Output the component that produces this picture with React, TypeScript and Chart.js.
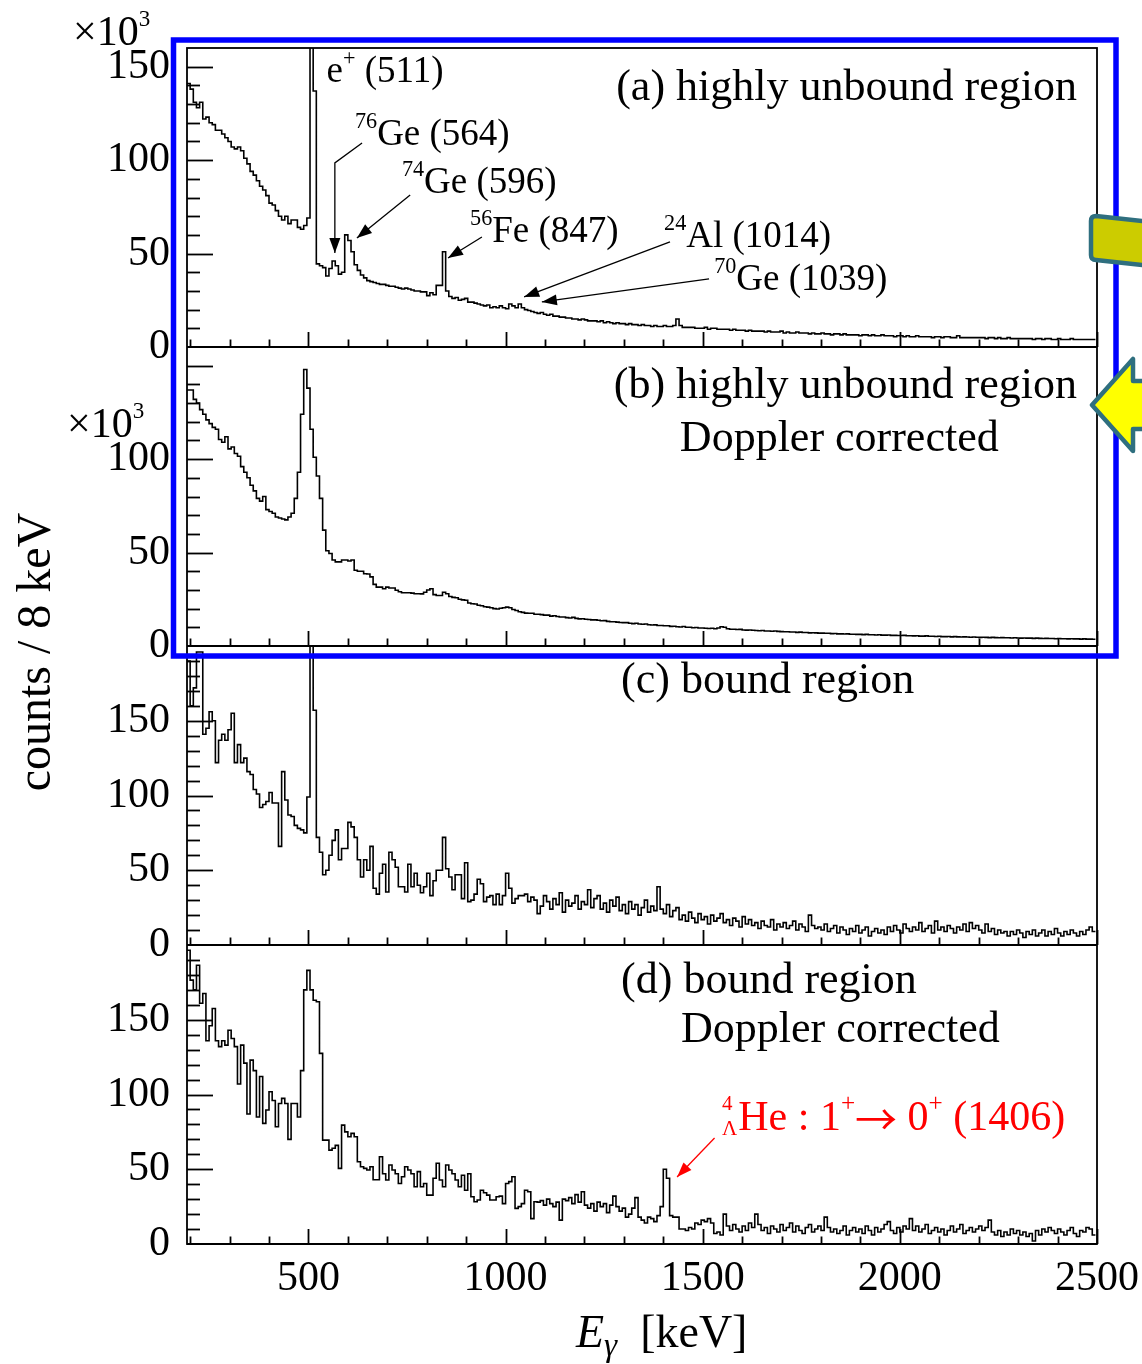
import React, { useEffect, useRef } from 'react';
import { Chart, registerables } from 'chart.js';

Chart.register(...registerables);

// ---------------- data ----------------
const BIN_START = 192; // keV, left edge of first bin
const BIN_WIDTH = 8; // keV
const X_MIN = 192;
const X_MAX = 2500;
const X_TICK_LABELS = [500, 1000, 1500, 2000, 2500];

// (a) highly unbound region  (x10^3 counts / 8 keV)
const panelA: number[] = [
  141, 138, 131, 128, 131, 122, 123, 120, 119, 116,
  116, 114, 112, 110, 107, 106, 107, 105, 101, 98,
  94, 92, 89, 86, 84, 81, 77, 76, 73, 70,
  68, 70, 66, 68, 68, 64, 63, 65, 69, 400,
  137, 44.5, 43.5, 42.5, 38, 42, 46, 43.5, 39, 40,
  60, 57, 51, 44, 41, 38.5, 37, 35.5, 35, 34.5,
  34, 33.5, 33.5, 33, 32.5, 32.5, 32, 31.5, 31, 31.5,
  31, 30.5, 30, 30, 29.5, 29.5, 27.5, 29, 28, 33,
  33, 51, 30, 27, 26, 26.5, 25, 25.5, 26, 24,
  24, 23.5, 23, 22.5, 22, 22.5, 21, 21.5, 21, 22,
  21, 20.5, 23, 22, 21, 23, 21, 20, 19.5, 19,
  18.5, 18, 18.5, 17.5, 17, 17.5, 16.5, 16.5, 16, 16,
  15.5, 15.5, 15, 15, 14.5, 15, 14.5, 14, 14, 14,
  13.5, 14, 13, 13.5, 13, 12.5, 13, 12.5, 12.5, 12,
  12.5, 12, 12, 11.5, 12, 11.5, 11.5, 11, 11.5, 11,
  11, 11.5, 11, 11, 11.5, 15, 11.5, 10.5, 10.5, 10.5,
  10.5, 10, 10, 10, 10.5, 9.5, 10, 10, 9.5, 9.5,
  9.5, 9.5, 9, 9.5, 9, 9, 9, 8.5, 9, 8.5,
  8.5, 8.5, 8.5, 8, 8.5, 8, 8, 8, 8.5, 7.5,
  8, 7.5, 7.5, 8, 7.5, 7.5, 7.5, 7, 7.5, 7,
  7, 7.5, 7, 7, 6.5, 7, 7, 6.5, 7, 6.5,
  6.5, 6.5, 6.5, 6, 6.5, 6.5, 6, 6.5, 6, 6,
  6.5, 6, 6, 6, 5.5, 6, 6, 5.5, 6, 5.5,
  5.5, 6, 5.5, 5.5, 5.5, 5.5, 5, 5.5, 5.5, 5,
  5.5, 5.5, 5, 5, 6, 5, 5, 5, 5, 5,
  5, 5, 5, 4.5, 5, 5, 4.5, 5, 4.5, 4.5,
  5, 4.5, 4.5, 4.5, 4.5, 4.5, 4.5, 4.5, 4, 4.5,
  4.5, 4, 4.5, 4.5, 4, 4, 4.5, 4, 4, 4,
  4.5, 4, 4, 4, 4, 4, 4, 4,
];

// (b) highly unbound region, Doppler corrected (x10^3)
const panelB: number[] = [
  137, 137, 132, 130, 126.5, 124, 121, 119, 117, 116,
  110.5, 109, 112, 105.5, 106.5, 103, 101.5, 96, 93, 90,
  86, 83, 79, 77.5, 80, 73, 72, 71, 69, 68.5,
  68, 67.5, 69, 71, 79, 93, 124, 148, 138, 116,
  101, 91, 79, 62, 51, 49.5, 46, 45, 45, 46,
  46, 45.5, 46, 40.5, 40, 40, 38.7, 38.5, 37, 33,
  31.5, 31.5, 30.6, 31.5, 31, 31, 29.8, 29, 28.5, 28.5,
  28.5, 28.3, 28, 28, 27.9, 28.8, 30, 30.6, 27.5, 27,
  27, 28.8, 28, 26.5, 26, 25.8, 25, 24.7, 24.5, 23,
  22.6, 22.5, 21.8, 21.5, 21, 20.8, 20.5, 20, 19.8, 20.2,
  20.5, 20.8, 20.5, 19.5, 19, 18.3, 18, 17.6, 17.5, 17.5,
  17, 17, 16.8, 16.5, 16.5, 16, 16.2, 15.8, 15.5, 15.5,
  15.2, 15, 15.3, 14.8, 14.5, 14.6, 14.3, 14.2, 14, 14,
  13.8, 13.5, 13.6, 13.2, 13, 13, 12.8, 12.6, 12.5, 12.5,
  12.2, 12, 12.2, 11.8, 11.6, 11.8, 11.4, 11.2, 11.3, 11,
  11, 10.8, 10.8, 10.5, 10.6, 10.3, 10.2, 10.4, 10, 10,
  9.8, 9.9, 9.6, 9.6, 9.5, 9.4, 9.5, 9.2, 9.6, 10.3,
  10, 9.2, 9, 9, 8.8, 8.9, 8.6, 8.5, 8.6, 8.4,
  8.3, 8.2, 8.3, 8, 8, 7.9, 8, 7.8, 7.7, 7.6,
  7.6, 7.5, 7.5, 7.3, 7.4, 7.2, 7.2, 7, 7.1, 7,
  6.9, 6.9, 6.8, 6.8, 6.6, 6.7, 6.5, 6.5, 6.4, 6.5,
  6.3, 6.3, 6.2, 6.2, 6.1, 6.2, 6, 6, 5.9, 6,
  5.8, 5.8, 5.9, 5.7, 5.7, 5.6, 5.6, 5.7, 5.5, 5.5,
  5.4, 5.5, 5.3, 5.3, 5.4, 5.2, 5.2, 5.1, 5.2, 5,
  5, 5.1, 4.9, 5, 4.9, 4.8, 4.9, 4.8, 4.7, 4.8,
  4.7, 4.6, 4.7, 4.6, 4.5, 4.6, 4.5, 4.4, 4.5, 4.4,
  4.4, 4.3, 4.4, 4.3, 4.2, 4.3, 4.2, 4.2, 4.1, 4.2,
  4.1, 4, 4.1, 4, 4, 3.9, 4, 3.9, 3.9, 3.8,
  3.9, 3.8, 3.8, 3.7, 3.8, 3.7, 3.7, 3.6,
];

// (c) bound region (counts / 8 keV)
const panelC: number[] = [
  190, 160, 172, 196, 196, 141, 145, 156, 150, 122,
  137, 141, 137, 144, 155, 122, 134, 122, 125, 116,
  114, 104, 101, 92, 94, 96, 102, 95, 95, 66,
  116, 97, 87, 86, 80, 78, 77, 75, 99, 600,
  157, 72, 62, 47, 50, 60, 70, 77, 57, 64.5,
  64.5, 82, 79, 72, 57, 45.5, 57, 50, 66, 38,
  34, 48, 54, 35.5, 62, 57, 52, 39, 39, 35.5,
  54, 39, 48, 40, 35, 39, 48, 33, 43, 50,
  50, 72, 51, 45.5, 37, 47, 47, 31, 55, 29,
  30, 34, 44, 41, 29, 32, 33, 27, 34, 27,
  33, 48, 38, 28, 31, 33, 33, 34, 29, 32,
  30, 21, 26, 33, 29, 24, 31, 27, 35, 22,
  30, 26, 28, 33, 24, 29, 27, 37, 25, 31,
  33, 24, 28, 22, 30, 26, 32, 23, 27, 21,
  29, 24, 27, 20, 25, 30, 22, 26, 23, 39,
  24, 21, 27, 19, 23, 25, 17, 20, 16, 22,
  18, 15, 21, 17, 19, 14, 20, 16, 18, 21,
  15, 17, 13, 18, 16, 12, 19, 14, 17, 13,
  15, 11, 16, 13, 12, 17, 10, 14, 12, 15,
  11, 13, 16, 10, 14, 12, 9, 20, 13, 11,
  12, 10, 14, 9, 11, 13, 8, 12, 10, 7,
  11, 9, 13, 8, 10, 12, 6, 9, 11, 8,
  10, 7, 12, 9, 13, 10, 8, 14, 11, 9,
  12, 10, 15, 9, 11, 13, 8, 16, 10, 12,
  9, 13, 11, 8, 12, 10, 14, 9, 15, 11,
  13, 10, 8, 14, 9, 11, 7, 10, 8, 9,
  6, 9, 7, 10, 8, 5, 9, 7, 10, 6,
  8, 10, 6, 9, 7, 11, 8, 6, 9, 7,
  10, 8, 6, 9, 7, 10, 12, 9,
];

// (d) bound region, Doppler corrected (counts / 8 keV)
const panelD: number[] = [
  196.5, 176.5, 170, 186.5, 161, 167.6, 136, 146, 157.5, 136,
  132, 136, 133, 143, 137.5, 132, 107, 133, 121, 87,
  123, 116, 85, 112, 80.7, 89.6, 101.8, 96, 78.4, 94,
  97.4, 94, 70, 94, 94, 85, 116, 170, 183, 170,
  163, 162, 127.5, 69.5, 69.5, 62.8, 64, 66, 50.6, 79.5,
  75, 71.7, 74, 71.7, 55, 51.7, 50.6, 49.5, 51.7, 43,
  43, 58.4, 47, 42.8, 52.8, 49.5, 47, 40.5, 45, 51.7,
  49.5, 47, 38.3, 48.4, 38.3, 40.5, 32.7, 32.7, 44, 54,
  42.8, 38.3, 52.8, 49.5, 47, 42.8, 38.3, 46, 36, 47,
  31.6, 28.3, 29.4, 36, 34.3, 32.7, 29.4, 29.4, 31.6, 32,
  27, 40.5, 41.7, 45, 23.8, 25, 27, 36, 35, 17,
  28.3, 28, 29, 26, 30, 27, 25, 28, 16, 30,
  29, 31, 27, 33, 28, 35, 26, 24, 27, 22,
  28, 25, 27, 21, 26, 32, 25, 22, 24, 18,
  20, 24, 31, 18, 16, 14, 18, 17, 15, 19,
  25, 50, 44, 19, 18, 18, 10, 10, 9, 11,
  10, 14, 13, 16, 15, 17, 14, 7, 8, 6,
  20, 12, 9, 13, 10, 8, 12, 9, 14, 11,
  20, 13, 9, 11, 7, 12, 10, 8, 13, 9,
  11, 14, 8, 12, 9, 7, 11, 13, 8, 10,
  12, 9, 18, 11, 8, 10, 7, 9, 12, 6,
  9, 11, 8, 10, 7, 12, 9, 6, 11, 8,
  10, 13, 15, 9, 7, 11, 8, 12, 10, 17,
  9, 12, 8, 10, 13, 7, 9, 11, 8, 10,
  6, 9, 12, 8, 10, 13, 7, 9, 11, 8,
  10, 12, 9, 11, 16, 8, 6, 9, 5, 8,
  6, 10, 7, 9, 6, 8, 5, 7, 2, 9,
  6, 10, 8, 11, 9, 7, 10, 8, 6, 9,
  11, 7, 5, 9, 8, 11, 10, 6,
];

const Y_LABELS_A = [0, 50, 100, 150];
const Y_LABELS_B = [0, 50, 100];
const Y_LABELS_C = [0, 50, 100, 150];
const Y_LABELS_D = [0, 50, 100, 150];

// ---------------- styling / annotations ----------------
const FAMILY = '"Liberation Serif", "Times New Roman", Times, serif';
const font = (size: number, italic = false, fam = FAMILY) => `${italic ? 'italic ' : ''}${size}px ${fam}`;

type Seg = { t: string; k?: 'sup' | 'sub' | 'pre'; t2?: string; it?: boolean; sc?: number; fam?: string; fs?: number; dy?: number };

const LABELS: { axis: string; e: number; v: number; size: number; align?: string; color?: string; segs: Seg[] }[] = [
  { axis: 'yA', e: 2449, v: 132.2, size: 44, align: 'right', segs: [{ t: '(a) highly unbound region' }] },
  { axis: 'yA', e: 546, v: 141.8, size: 37, segs: [{ t: 'e' }, { t: '+', k: 'sup' }, { t: ' (511)' }] },
  { axis: 'yA', e: 618, v: 108.1, size: 37, segs: [{ t: '76', k: 'sup' }, { t: 'Ge (564)' }] },
  { axis: 'yA', e: 737, v: 82.4, size: 37, segs: [{ t: '74', k: 'sup' }, { t: 'Ge (596)' }] },
  { axis: 'yA', e: 910, v: 56.2, size: 37, segs: [{ t: '56', k: 'sup' }, { t: 'Fe (847)' }] },
  { axis: 'yA', e: 1402, v: 53.5, size: 37, segs: [{ t: '24', k: 'sup' }, { t: 'Al (1014)' }] },
  { axis: 'yA', e: 1529, v: 30.5, size: 37, segs: [{ t: '70', k: 'sup' }, { t: 'Ge (1039)' }] },
  { axis: 'yB', e: 2449, v: 132.7, size: 44, align: 'right', segs: [{ t: '(b) highly unbound region' }] },
  { axis: 'yB', e: 1442, v: 104.3, size: 44, segs: [{ t: 'Doppler corrected' }] },
  { axis: 'yC', e: 1293, v: 168.6, size: 44, segs: [{ t: '(c) bound region' }] },
  { axis: 'yD', e: 1293, v: 167.9, size: 44, segs: [{ t: '(d) bound region' }] },
  { axis: 'yD', e: 1445, v: 135.1, size: 44, segs: [{ t: 'Doppler corrected' }] },
  {
    axis: 'yD', e: 1549, v: 76.3, size: 42, color: '#ff0000',
    segs: [
      { t: '4', t2: 'Λ', k: 'pre' },
      { t: 'He : 1' },
      { t: '+', k: 'sup' },
      { t: '→', fam: '"Noto Sans CJK SC", "DejaVu Serif", sans-serif', fs: 42, dy: 5 },
      { t: ' 0' },
      { t: '+', k: 'sup' },
      { t: ' (1406)' },
    ],
  },
];

const ARROWS: { axis: string; pts: number[][]; color?: string }[] = [
  { axis: 'yA', pts: [[636, 109.2], [567, 98.5], [567, 50.3]] },
  { axis: 'yA', pts: [[758, 81.3], [623, 58.3]] },
  { axis: 'yA', pts: [[940, 58.9], [854, 47.6]] },
  { axis: 'yA', pts: [[1417, 56.2], [1047, 26.8]] },
  { axis: 'yA', pts: [[1516, 36.4], [1092, 24.1]] },
  { axis: 'yD', pts: [[1530, 70.9], [1435, 44.8]], color: '#ff0000' },
];

function setSegFont(ctx: CanvasRenderingContext2D, s: Seg, size: number) {
  const small = size * (s.sc ?? 0.6);
  if (s.k === 'pre') ctx.font = font(size * 0.5);
  else if (s.k) ctx.font = font(small, s.it, s.fam);
  else ctx.font = font(s.fs ?? size, s.it, s.fam);
}

function segWidth(ctx: CanvasRenderingContext2D, s: Seg, size: number) {
  setSegFont(ctx, s, size);
  if (s.k === 'pre') return Math.max(ctx.measureText(s.t).width, ctx.measureText(s.t2 || '').width) + 1;
  return ctx.measureText(s.t).width;
}

function drawRich(ctx: CanvasRenderingContext2D, segs: Seg[], x: number, y: number, size: number, color: string, align = 'left') {
  const ws = segs.map((s) => segWidth(ctx, s, size));
  const total = ws.reduce((a, b) => a + b, 0);
  let cx = align === 'right' ? x - total : align === 'center' ? x - total / 2 : x;
  ctx.save();
  ctx.fillStyle = color;
  ctx.textAlign = 'left';
  ctx.textBaseline = 'alphabetic';
  segs.forEach((s, i) => {
    setSegFont(ctx, s, size);
    const dy = s.dy ?? 0;
    if (s.k === 'pre') {
      ctx.fillText(s.t, cx, y - size * 0.48);
      ctx.fillText(s.t2 || '', cx, y + size * 0.12);
    } else if (s.k === 'sup') {
      ctx.fillText(s.t, cx, y - size * 0.46 + dy);
    } else if (s.k === 'sub') {
      ctx.fillText(s.t, cx, y + size * 0.2 + dy);
    } else {
      ctx.fillText(s.t, cx, y + dy);
    }
    cx += ws[i];
  });
  ctx.restore();
}

function arrowHead(ctx: CanvasRenderingContext2D, fx: number, fy: number, tx: number, ty: number, len: number, half: number) {
  const a = Math.atan2(ty - fy, tx - fx);
  const c = Math.cos(a);
  const s = Math.sin(a);
  ctx.beginPath();
  ctx.moveTo(tx, ty);
  ctx.lineTo(tx - len * c + half * s, ty - len * s - half * c);
  ctx.lineTo(tx - len * c - half * s, ty - len * s + half * c);
  ctx.closePath();
  ctx.fill();
}

const PANELS = [
  { id: 'yA', values: panelA, max: 160, labels: Y_LABELS_A },
  { id: 'yB', values: panelB, max: 160, labels: Y_LABELS_B },
  { id: 'yC', values: panelC, max: 200, labels: Y_LABELS_C },
  { id: 'yD', values: panelD, max: 200, labels: Y_LABELS_D },
];

const decorPlugin = {
  id: 'decor',
  afterDraw(chart: any) {
    const ctx: CanvasRenderingContext2D = chart.ctx;
    const xs = chart.scales.x;
    const area = chart.chartArea;
    ctx.save();
    ctx.strokeStyle = '#000';
    ctx.fillStyle = '#000';
    ctx.lineWidth = 1.8;
    ctx.lineCap = 'butt';

    // frame + panel boundaries
    ctx.strokeRect(area.left, area.top, area.right - area.left, area.bottom - area.top);
    PANELS.forEach((p) => {
      const ys = chart.scales[p.id];
      ctx.beginPath();
      ctx.moveTo(area.left, ys.bottom);
      ctx.lineTo(area.right, ys.bottom);
      ctx.stroke();
      // y ticks (inside)
      for (let v = 10; v < p.max; v += 10) {
        const py = Math.round(ys.getPixelForValue(v)) + 0.5;
        const len = v % 50 === 0 ? 26 : 13;
        ctx.beginPath();
        ctx.moveTo(area.left, py);
        ctx.lineTo(area.left + len, py);
        ctx.stroke();
      }
      // x ticks (pointing up from the panel bottom)
      for (let e = 200; e <= 2500; e += 100) {
        const px = Math.round(xs.getPixelForValue(e)) + 0.5;
        const len = e % 500 === 0 ? 15 : 7.5;
        ctx.beginPath();
        ctx.moveTo(px, ys.bottom);
        ctx.lineTo(px, ys.bottom - len);
        ctx.stroke();
      }
    });

    // arrows
    ARROWS.forEach((a) => {
      const ys = chart.scales[a.axis];
      const pts = a.pts.map(([e, v]) => [xs.getPixelForValue(e), ys.getPixelForValue(v)]);
      ctx.strokeStyle = a.color || '#000';
      ctx.fillStyle = a.color || '#000';
      ctx.lineWidth = 1.3;
      ctx.beginPath();
      pts.forEach(([px, py], i) => (i === 0 ? ctx.moveTo(px, py) : ctx.lineTo(px, py)));
      ctx.stroke();
      const [fx, fy] = pts[pts.length - 2];
      const [tx, ty] = pts[pts.length - 1];
      arrowHead(ctx, fx, fy, tx, ty, 15, 5.5);
    });

    // labels
    LABELS.forEach((l) => {
      const ys = chart.scales[l.axis];
      drawRich(ctx, l.segs, xs.getPixelForValue(l.e), ys.getPixelForValue(l.v), l.size, l.color || '#000', l.align || 'left');
    });

    // multipliers
    drawRich(ctx, [{ t: '×10' }, { t: '3', k: 'sup', sc: 0.55 }], 73, 45, 42, '#000');
    drawRich(ctx, [{ t: '×10' }, { t: '3', k: 'sup', sc: 0.55 }], 67, 437, 42, '#000');

    // axis titles
    drawRich(ctx, [{ t: 'E', it: true }, { t: 'γ', k: 'sub', it: true, sc: 0.72 }, { t: '  [keV]' }], 576, 1347, 46, '#000');
    ctx.save();
    ctx.translate(50, 652);
    ctx.rotate(-Math.PI / 2);
    ctx.font = font(48);
    ctx.fillStyle = '#000';
    ctx.textAlign = 'center';
    ctx.textBaseline = 'alphabetic';
    ctx.fillText('counts / 8 keV', 0, 0);
    ctx.restore();

    // blue highlight box around (a) and (b)
    ctx.strokeStyle = '#0000ff';
    ctx.lineWidth = 5.5;
    ctx.strokeRect(173.5, 40, 1116 - 173.5, 656 - 40);

    // yellow arrows at the right edge
    ctx.lineJoin = 'round';
    ctx.lineWidth = 4.5;
    ctx.strokeStyle = '#2f6f7f';
    ctx.fillStyle = '#cccc00';
    ctx.beginPath();
    ctx.moveTo(1096, 216);
    ctx.lineTo(1160, 223);
    ctx.lineTo(1160, 267);
    ctx.lineTo(1096, 260);
    ctx.quadraticCurveTo(1091, 260, 1091, 255);
    ctx.lineTo(1091, 221);
    ctx.quadraticCurveTo(1091, 216, 1096, 216);
    ctx.closePath();
    ctx.fill();
    ctx.stroke();

    ctx.fillStyle = '#ffff00';
    ctx.beginPath();
    ctx.moveTo(1092, 405);
    ctx.lineTo(1133, 359);
    ctx.lineTo(1133, 381);
    ctx.lineTo(1170, 381);
    ctx.lineTo(1170, 429);
    ctx.lineTo(1133, 429);
    ctx.lineTo(1133, 451);
    ctx.closePath();
    ctx.fill();
    ctx.stroke();

    ctx.restore();
  },
};

function makeYAxis(p: { id: string; max: number; labels: number[] }) {
  return {
    type: 'linear',
    position: 'left',
    stack: 'panels',
    stackWeight: 1,
    min: 0,
    max: p.max,
    grid: { display: false, drawTicks: false },
    border: { display: false },
    ticks: {
      font: { family: FAMILY, size: 42 },
      color: '#000',
      padding: 17,
      callback: (v: number) => String(v),
    },
    afterBuildTicks: (s: any) => {
      s.ticks = p.labels.map((v) => ({ value: v }));
    },
    afterFit: (s: any) => {
      s.width = 187;
      s.paddingTop = 0;
      s.paddingBottom = 0;
    },
  };
}

export default function App() {
  const ref = useRef<HTMLCanvasElement | null>(null);

  useEffect(() => {
    if (!ref.current) return;
    const datasets = PANELS.map((p) => {
      const pts = p.values.map((v, k) => ({ x: BIN_START + k * BIN_WIDTH, y: v }));
      pts.push({ x: BIN_START + p.values.length * BIN_WIDTH, y: p.values[p.values.length - 1] });
      return {
        label: p.id,
        data: pts,
        xAxisID: 'x',
        yAxisID: p.id,
        stepped: 'before',
        borderColor: '#000',
        borderWidth: 1.6,
        pointRadius: 0,
        fill: false,
        tension: 0,
      };
    });
    // order matters: the last defined stacked axis is placed on top
    const scales: any = {
      x: {
        type: 'linear',
        position: 'bottom',
        min: X_MIN,
        max: X_MAX,
        grid: { display: false, drawTicks: false },
        border: { display: false },
        ticks: {
          font: { family: FAMILY, size: 42 },
          color: '#000',
          padding: 10,
          maxRotation: 0,
          autoSkip: false,
          callback: (v: number) => String(v),
        },
        afterBuildTicks: (s: any) => {
          s.ticks = X_TICK_LABELS.map((v) => ({ value: v }));
        },
        afterFit: (s: any) => {
          s.height = 120;
          s.paddingLeft = 0;
          s.paddingRight = 0;
        },
      },
      yD: makeYAxis(PANELS[3]),
      yC: makeYAxis(PANELS[2]),
      yB: makeYAxis(PANELS[1]),
      yA: makeYAxis(PANELS[0]),
    };
    const chart = new Chart(ref.current, {
      type: 'line',
      data: { datasets } as any,
      options: {
        responsive: false,
        animation: false,
        devicePixelRatio: 1,
        events: [],
        layout: { padding: { left: 0, right: 45, top: 48, bottom: 0 } },
        plugins: { legend: { display: false }, tooltip: { enabled: false }, title: { display: false } },
        scales,
      } as any,
      plugins: [decorPlugin],
    });
    return () => chart.destroy();
  }, []);

  return (
    <div style={{ position: 'absolute', left: 0, top: 0, width: 1142, height: 1364, background: '#fff' }}>
      <canvas ref={ref} width={1142} height={1364} style={{ width: 1142, height: 1364, display: 'block' }} />
    </div>
  );
}
